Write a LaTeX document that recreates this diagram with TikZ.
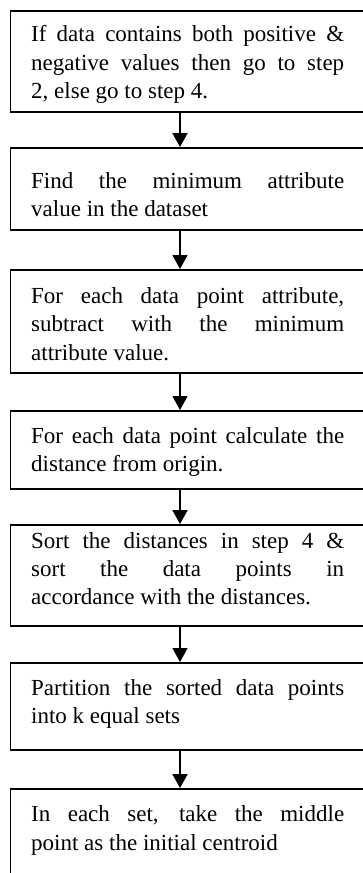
\documentclass[tikz,border=0pt]{standalone}
\usepackage{fontspec}
\setmainfont{Liberation Serif}
\usetikzlibrary{arrows.meta}
\begin{document}
\begin{tikzpicture}[x=1pt,y=1pt,
  box/.style={draw,line width=1.8pt,rectangle,minimum width=356.5pt,inner sep=0pt,anchor=north west},
  txt/.style={text width=313pt,align=justify,inner sep=0pt,anchor=base west,
    font={\fontsize{23}{28.4}\selectfont\hyphenpenalty=10000\exhyphenpenalty=10000}},
  flow/.style={line width=1.8pt,-{Triangle[width=15pt,length=14pt]}}]
\useasboundingbox (0,0) rectangle (363,-873);
\coordinate (ax) at (180,0);
% boxes
\node[box,minimum height=101pt] (b1) at (9.5,-10) {};
\node[box,minimum height=82pt]  (b2) at (9.5,-147) {};
\node[box,minimum height=103pt] (b3) at (9.5,-269) {};
\node[box,minimum height=78pt]  (b4) at (9.5,-410) {};
\node[box,minimum height=101pt] (b5) at (9.5,-524) {};
\node[box,minimum height=87pt]  (b6) at (9.5,-662) {};
\node[box,minimum height=92pt]  (b7) at (9.5,-788) {};
% texts
\node[txt] (t1) at (31,-41.7) {If data contains both positive \& \linebreak negative values then go to step \linebreak 2, else go to step 4.};
\node[txt] (t2) at (31,-188.3) {Find the minimum attribute \linebreak value in the dataset};
\node[txt] (t3) at (31,-303.3) {For each data point attribute, \linebreak subtract with the minimum \linebreak attribute value.};
\node[txt] (t4) at (31,-443.5) {For each data point calculate the \linebreak distance from origin.};
\node[txt] (t5) at (31,-548) {Sort the distances in step 4 \& \linebreak sort the data points in \linebreak accordance with the distances.};
\node[txt] (t6) at (31,-695) {Partition the sorted data points \linebreak into k equal sets};
\node[txt] (t7) at (31,-821.7) {In each set, take the middle \linebreak point as the initial centroid};
% connectors
\draw[flow] (b1.south -| ax) -- (b2.north -| ax);
\draw[flow] (b2.south -| ax) -- (b3.north -| ax);
\draw[flow] (b3.south -| ax) -- (b4.north -| ax);
\draw[flow] (b4.south -| ax) -- (b5.north -| ax);
\draw[flow] (b5.south -| ax) -- (b6.north -| ax);
\draw[flow] (b6.south -| ax) -- (b7.north -| ax);
\end{tikzpicture}
\end{document}
